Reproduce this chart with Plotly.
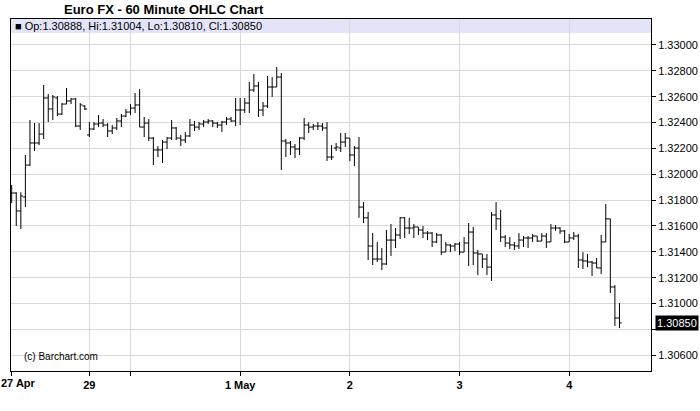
import plotly.graph_objects as go

# ---- data ----
opens = [1.31855,1.31855,1.31716,1.31824,1.32071,1.32242,1.32242,1.32311,1.32590,1.32505,
         1.32590,1.32466,1.32543,1.32567,1.32582,1.32373,1.32528,1.32304,1.32350,1.32389,
         1.32396,1.32381,1.32335,1.32358,1.32412,1.32450,1.32481,1.32512,1.32536,1.32365,
         1.32396,1.32280,1.32188,1.32188,1.32249,1.32280,1.32358,1.32280,1.32265,1.32296,
         1.32381,1.32365,1.32389,1.32404,1.32412,1.32396,1.32381,1.32404,1.32427,1.32412,
         1.32497,1.32497,1.32551,1.32652,1.32683,1.32497,1.32528,1.32675,1.32675,1.32752,
         1.32257,1.32242,1.32211,1.32195,1.32280,1.32381,1.32365,1.32373,1.32373,1.32358,
         1.32133,1.32203,1.32203,1.32249,1.32280,1.32149,1.32203,1.31746,1.31663,1.31445,
         1.31344,1.31344,1.31306,1.31491,1.31491,1.31530,1.31663,1.31584,1.31584,1.31592,
         1.31569,1.31545,1.31545,1.31476,1.31530,1.31398,1.31453,1.31445,1.31460,1.31398,
         1.31468,1.31553,1.31391,1.31383,1.31344,1.31282,1.31685,1.31655,1.31514,1.31468,
         1.31453,1.31445,1.31491,1.31507,1.31507,1.31522,1.31483,1.31522,1.31476,1.31584,
         1.31584,1.31561,1.31476,1.31507,1.31522,1.31337,1.31329,1.31321,1.31313,1.31275,
         1.31476,1.31655,1.31128,1.30888]
highs = [1.31917,1.31861,1.31861,1.32149,1.32420,1.32396,1.32396,1.32690,1.32621,1.32613,
         1.32605,1.32551,1.32667,1.32590,1.32590,1.32551,1.32536,1.32404,1.32404,1.32458,
         1.32427,1.32396,1.32381,1.32435,1.32466,1.32505,1.32543,1.32628,1.32659,1.32443,
         1.32427,1.32288,1.32218,1.32265,1.32288,1.32420,1.32365,1.32304,1.32327,1.32427,
         1.32412,1.32404,1.32420,1.32427,1.32420,1.32404,1.32412,1.32443,1.32443,1.32590,
         1.32590,1.32590,1.32714,1.32775,1.32714,1.32559,1.32760,1.32752,1.32830,1.32783,
         1.32273,1.32257,1.32234,1.32288,1.32435,1.32404,1.32389,1.32404,1.32396,1.32404,
         1.32226,1.32242,1.32319,1.32319,1.32280,1.32218,1.32288,1.31785,1.31708,1.31545,
         1.31476,1.31429,1.31569,1.31615,1.31584,1.31669,1.31669,1.31663,1.31615,1.31592,
         1.31600,1.31561,1.31553,1.31545,1.31538,1.31476,1.31460,1.31468,1.31476,1.31514,
         1.31623,1.31592,1.31414,1.31383,1.31383,1.31708,1.31785,1.31723,1.31530,1.31514,
         1.31476,1.31545,1.31522,1.31522,1.31538,1.31522,1.31545,1.31545,1.31615,1.31607,
         1.31592,1.31569,1.31538,1.31553,1.31538,1.31398,1.31383,1.31329,1.31352,1.31530,
         1.31770,1.31655,1.31143,1.31004]
lows = [1.31777,1.31600,1.31576,1.31746,1.32064,1.32180,1.32226,1.32273,1.32404,1.32420,
        1.32450,1.32458,1.32543,1.32543,1.32365,1.32342,1.32497,1.32288,1.32342,1.32365,
        1.32365,1.32288,1.32311,1.32342,1.32365,1.32443,1.32458,1.32474,1.32365,1.32288,
        1.32257,1.32071,1.32133,1.32087,1.32195,1.32265,1.32265,1.32218,1.32242,1.32288,
        1.32335,1.32342,1.32365,1.32389,1.32365,1.32358,1.32327,1.32381,1.32404,1.32373,
        1.32381,1.32474,1.32474,1.32636,1.32443,1.32450,1.32512,1.32598,1.32675,1.32033,
        1.32133,1.32149,1.32125,1.32149,1.32265,1.32319,1.32342,1.32342,1.32335,1.32102,
        1.32110,1.32180,1.32172,1.32211,1.32102,1.32064,1.31663,1.31623,1.31337,1.31298,
        1.31321,1.31259,1.31298,1.31368,1.31429,1.31499,1.31507,1.31538,1.31507,1.31530,
        1.31507,1.31491,1.31437,1.31468,1.31375,1.31398,1.31398,1.31406,1.31375,1.31398,
        1.31290,1.31298,1.31220,1.31275,1.31220,1.31174,1.31569,1.31476,1.31437,1.31422,
        1.31414,1.31422,1.31437,1.31429,1.31476,1.31476,1.31483,1.31429,1.31476,1.31561,
        1.31538,1.31468,1.31476,1.31491,1.31275,1.31267,1.31282,1.31213,1.31275,1.31228,
        1.31476,1.31081,1.30826,1.30810]
closes = [1.31855,1.31716,1.31832,1.32071,1.32242,1.32242,1.32311,1.32590,1.32505,1.32598,
          1.32466,1.32543,1.32567,1.32582,1.32373,1.32536,1.32505,1.32350,1.32389,1.32396,
          1.32381,1.32335,1.32358,1.32412,1.32450,1.32481,1.32512,1.32536,1.32365,1.32396,
          1.32280,1.32188,1.32188,1.32249,1.32280,1.32358,1.32280,1.32265,1.32296,1.32381,
          1.32365,1.32389,1.32404,1.32412,1.32396,1.32381,1.32404,1.32427,1.32412,1.32497,
          1.32497,1.32551,1.32652,1.32683,1.32497,1.32528,1.32675,1.32675,1.32752,1.32257,
          1.32242,1.32211,1.32195,1.32280,1.32381,1.32365,1.32373,1.32373,1.32358,1.32133,
          1.32133,1.32211,1.32249,1.32280,1.32149,1.32203,1.31746,1.31663,1.31445,1.31344,
          1.31344,1.31306,1.31491,1.31491,1.31530,1.31663,1.31584,1.31584,1.31592,1.31569,
          1.31545,1.31545,1.31476,1.31530,1.31398,1.31453,1.31445,1.31460,1.31398,1.31468,
          1.31553,1.31391,1.31383,1.31344,1.31282,1.31685,1.31655,1.31514,1.31468,1.31453,
          1.31445,1.31491,1.31507,1.31507,1.31522,1.31483,1.31522,1.31476,1.31584,1.31584,
          1.31561,1.31476,1.31507,1.31522,1.31337,1.31329,1.31321,1.31313,1.31275,1.31476,
          1.31655,1.31128,1.30888,1.30850]
bar_index = list(range(len(opens)))

first_day_label = "27 Apr"
x_tick_pos = [0, 17, 26, 50, 74, 98, 122]
x_tick_text = ["", "29", "", "1 May", "2", "3", "4"]
y_tick_vals = [1.306, 1.308, 1.310, 1.312, 1.314, 1.316, 1.318, 1.320,
               1.322, 1.324, 1.326, 1.328, 1.330]
y_tick_text = ["1.30600", "", "1.31000", "1.31200", "1.31400", "1.31600", "1.31800",
               "1.32000", "1.32200", "1.32400", "1.32600", "1.32800", "1.33000"]
title_text = "Euro FX - 60 Minute OHLC Chart"
last_o, last_h, last_l, last_c = opens[-1], highs[-1], lows[-1], closes[-1]

xfont = dict(family="Liberation Sans Narrow, Arial Narrow, Liberation Sans, Arial",
             size=11, weight="bold", color="black")

fig = go.Figure()
fig.add_trace(go.Ohlc(
    x=bar_index, open=opens, high=highs, low=lows, close=closes,
    increasing=dict(line=dict(color="black", width=1)),
    decreasing=dict(line=dict(color="black", width=1)),
    tickwidth=0.5, hoverinfo="skip", showlegend=False,
))

fig.update_layout(
    width=700, height=411,
    margin=dict(l=11, r=49, t=19, b=40, autoexpand=False),
    paper_bgcolor="white", plot_bgcolor="white",
    showlegend=False,
    font=dict(family="Liberation Sans, Arial, sans-serif", size=11, color="black"),
    xaxis=dict(
        range=[-0.15, 139.9], rangeslider=dict(visible=False),
        tickmode="array", tickvals=x_tick_pos, ticktext=x_tick_text,
        showgrid=True, gridcolor="#d9d9d9", gridwidth=1,
        showline=True, linecolor="black", linewidth=1, mirror=True,
        ticks="outside", ticklen=4, tickcolor="black",
        ticklabeloverflow="allow", automargin=False,
        tickfont=xfont,
        zeroline=False,
    ),
    yaxis=dict(
        side="right", range=[1.30478, 1.33201],
        tickmode="array", tickvals=y_tick_vals, ticktext=y_tick_text,
        showgrid=True, gridcolor="#d9d9d9", gridwidth=1,
        showline=True, linecolor="black", linewidth=1, mirror=True,
        ticks="outside", ticklen=4, tickcolor="black",
        ticklabeloverflow="allow", automargin=False,
        tickfont=dict(size=11),
        zeroline=False,
    ),
)

# legend band
fig.add_shape(type="rect", xref="paper", yref="paper", x0=0, x1=1, y0=0.960, y1=1,
              fillcolor="#e4e4f8", line=dict(width=0), layer="below")

fig.add_annotation(xref="paper", yref="paper", x=0.003, y=0.980, xanchor="left", yanchor="middle",
                   text="■ Op:%.5f, Hi:%.5f, Lo:%.5f, Cl:%.5f" % (last_o, last_h, last_l, last_c),
                   showarrow=False, font=dict(size=11, color="black"))

fig.add_annotation(xref="paper", yref="paper", x=0.0797, y=1.0256, xanchor="left", yanchor="middle",
                   text="<b>%s</b>" % title_text, showarrow=False,
                   font=dict(size=13, color="black"))

fig.add_annotation(xref="paper", yref="paper", x=0.017, y=0.04, xanchor="left", yanchor="middle",
                   text="(c) Barchart.com", showarrow=False, font=dict(size=10, color="black"))

# first date label, kept inside the page
fig.add_annotation(xref="paper", yref="paper", x=-11 / 640, y=-0.012, xanchor="left", yanchor="top",
                   text=first_day_label, showarrow=False, font=xfont, xshift=-1)

fig.add_annotation(xref="paper", yref="y", x=1.006, y=last_c, xanchor="left", yanchor="middle",
                   text="%.5f" % last_c, showarrow=False, bgcolor="black",
                   font=dict(size=11, color="white"), borderpad=1)

fig.write_html("out.html", config={"displayModeBar": False},
               post_script="document.body.style.margin='0';document.body.style.overflow='hidden';")
